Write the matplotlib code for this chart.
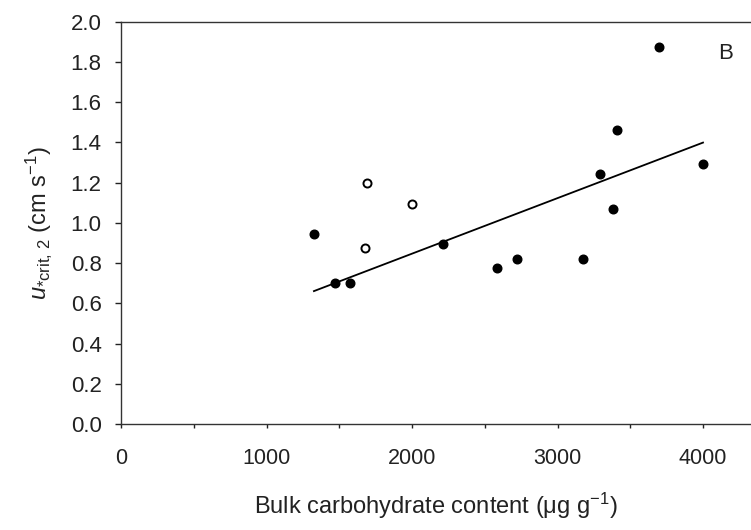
import numpy as np
import matplotlib
matplotlib.use("Agg")
import matplotlib.pyplot as plt

plt.rcParams['font.family'] = ['Liberation Sans', 'DejaVu Sans']
plt.rcParams['mathtext.fontset'] = 'custom'
plt.rcParams['mathtext.rm'] = 'Liberation Sans'
plt.rcParams['mathtext.it'] = 'Liberation Sans:italic'

# filled points (used for the regression)
carb_filled = [1326, 1471, 1576, 2213, 2582, 2724, 3175, 3290, 3379, 3407, 3696, 4000]
u_filled = [0.945, 0.700, 0.700, 0.897, 0.775, 0.822, 0.821, 1.242, 1.071, 1.461, 1.874, 1.294]

# open points
carb_open = [1693, 2002, 1675]
u_open = [1.196, 1.096, 0.874]

x_ticks = [0, 1000, 2000, 3000, 4000]
y_ticks = [0.0, 0.2, 0.4, 0.6, 0.8, 1.0, 1.2, 1.4, 1.6, 1.8, 2.0]

fig = plt.figure(figsize=(7.51, 5.30), dpi=100)
ax = fig.add_axes([121 / 751, 1 - 424 / 530, 1 - 121 / 751, (424 - 21.7) / 530])

ax.plot(carb_filled, u_filled, 'o', color='black', ms=6.2, zorder=3)
ax.plot(carb_open, u_open, 'o', mfc='white', mec='black', mew=1.4, ms=5.8, zorder=3)

# linear regression on filled points
k, b = np.polyfit(carb_filled, u_filled, 1)
xx = np.array([min(carb_filled), max(carb_filled)])
ax.plot(xx, k * xx + b, color='black', lw=1.3)

ax.set_xlim(0, 630 / 0.1455)
ax.set_ylim(0, 2.0)
ax.set_xticks(x_ticks)
ax.set_xticks([500, 1500, 2500, 3500], minor=True)
ax.set_yticks(y_ticks)
ax.set_yticklabels([f'{v:.1f}' for v in y_ticks])

ax.spines['right'].set_visible(False)
for s in ['left', 'top', 'bottom']:
    ax.spines[s].set_color('#333333')
    ax.spines[s].set_linewidth(1.0)

ax.tick_params(axis='y', direction='out', length=4, width=1, labelsize=16, pad=10, colors='#222222')
ax.tick_params(axis='x', which='both', direction='out', length=3, width=1, labelsize=15.5, pad=14, colors='#222222')

ax.set_xlabel('Bulk carbohydrate content (\u03bcg g$^{-1}$)', fontsize=17, labelpad=16, color='#222222')
ax.set_ylabel(r'$u_{*\mathrm{crit,\,2}}$ (cm s$^{-1}$)', fontsize=17, labelpad=12, color='#222222')

ax.text(4158, 1.84, 'B', fontsize=16, ha='center', va='center', color='#222222')

fig.savefig('out.png', dpi=100)
